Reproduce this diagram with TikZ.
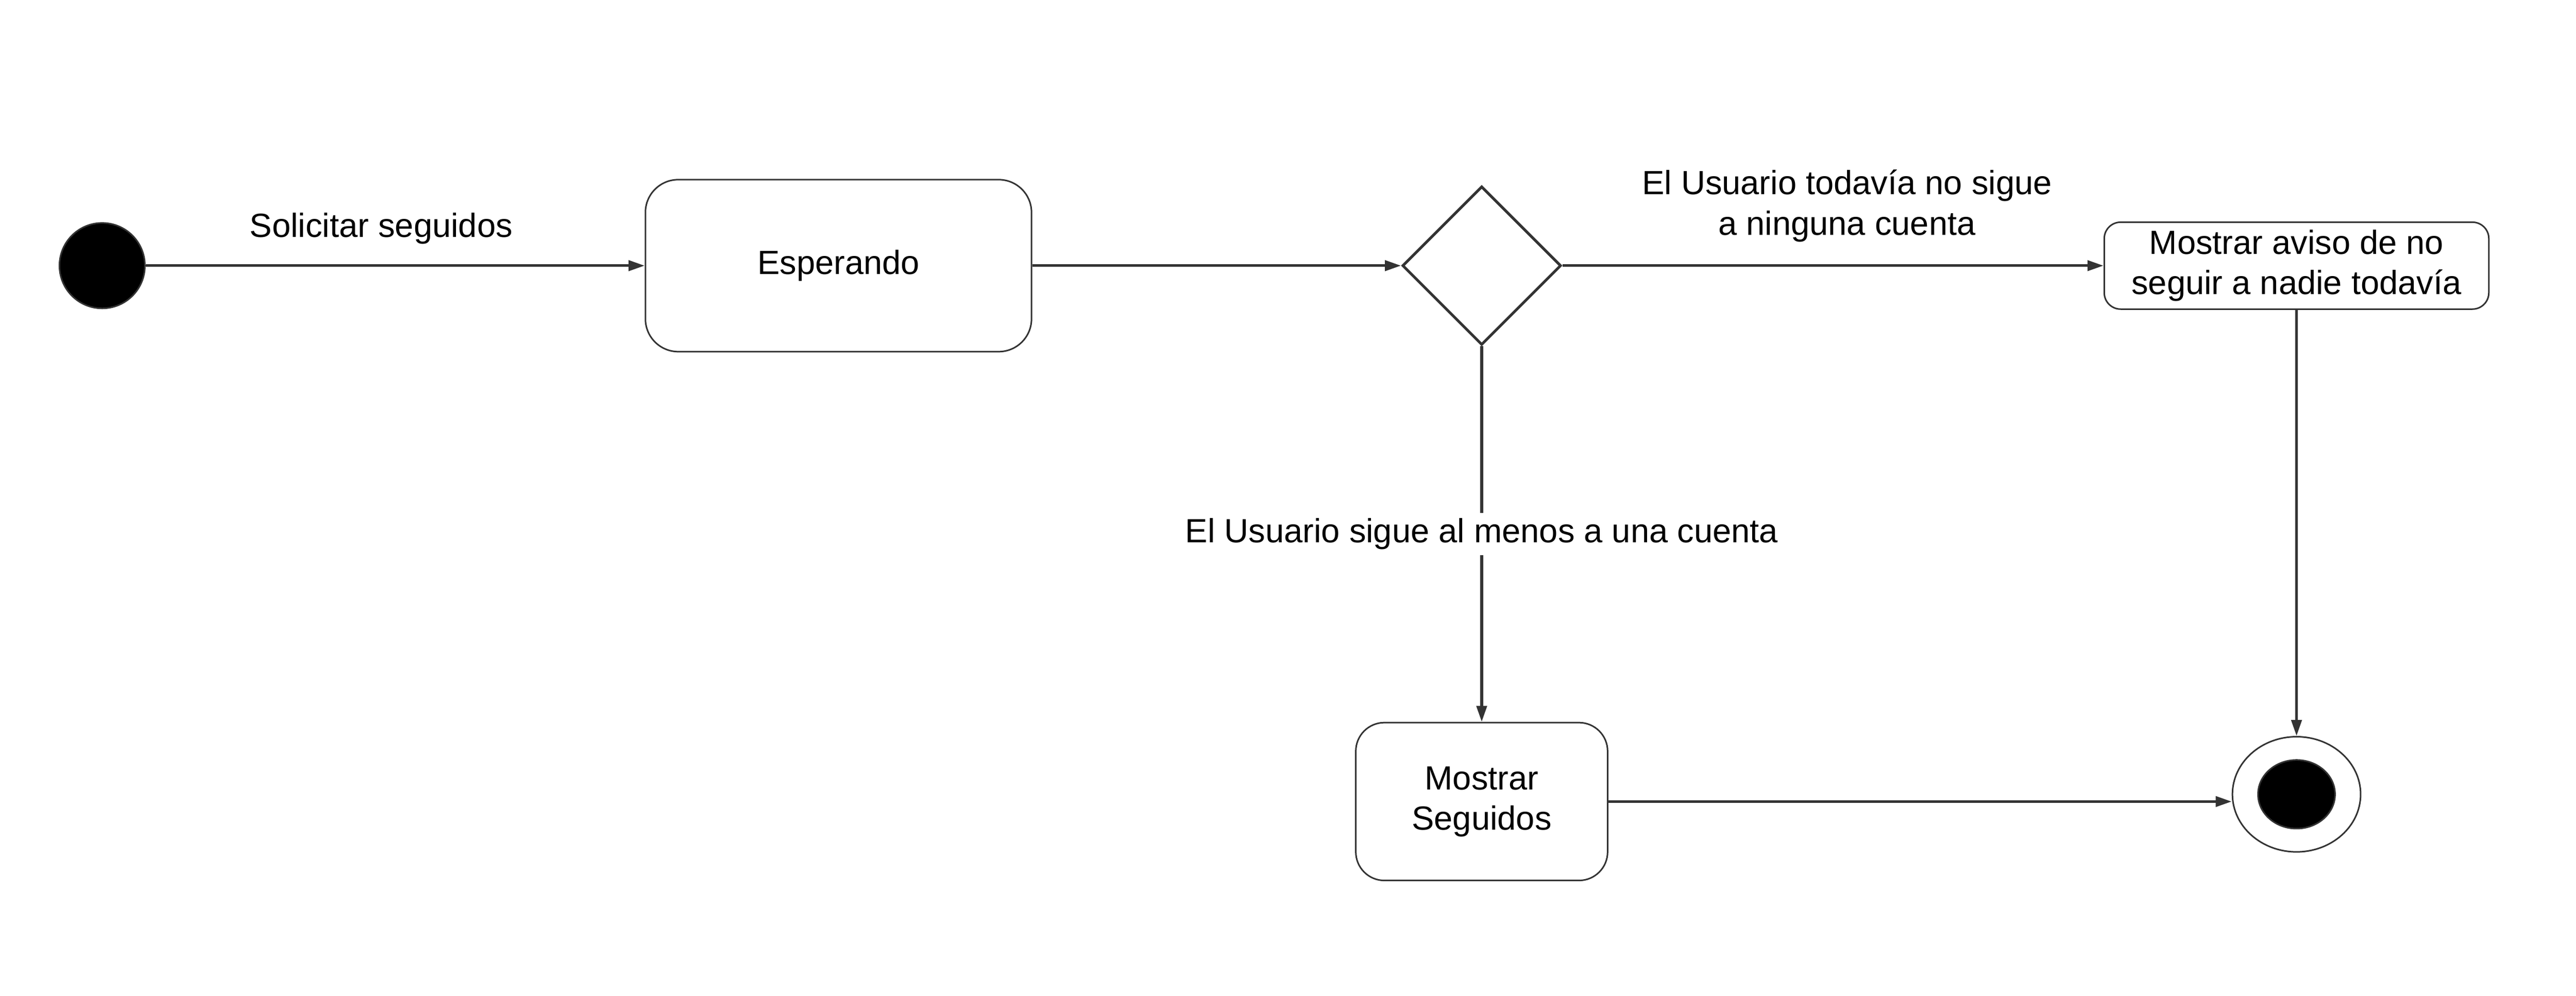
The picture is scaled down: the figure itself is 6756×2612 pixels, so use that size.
\documentclass[tikz,border=0pt]{standalone}
\usepackage{fontspec}
\setmainfont{Liberation Sans}
\usetikzlibrary{shapes.geometric,arrows.meta}
\definecolor{lc}{HTML}{333333}
\begin{document}
\begin{tikzpicture}[x=0.01cm,y=-0.01cm,
  every node/.style={font=\fontsize{25}{30}\selectfont, text=black},
  line/.style={draw=lc, line width=2pt},
  arr/.style={line, -{Triangle[length=0.42cm,width=0.27cm]}},
  statebox/.style={draw=lc, line width=1.15pt, fill=white, align=center, inner sep=0pt},
  lbl/.style={inner sep=0pt, align=center},
]
\useasboundingbox[fill=white] (0,0) rectangle (6756,2612);
\node[circle, draw=lc, line width=1.15pt, fill=black, minimum size=2.24cm, inner sep=0pt] (ini) at (268,697) {};
\node[statebox, minimum width=10.12cm, minimum height=4.51cm, rounded corners=0.86cm] (esp) at (2199,697) {Esperando};
\node[diamond, aspect=1, draw=lc, line width=2pt, fill=white, minimum width=4.16cm, minimum height=4.16cm, inner sep=0pt] (dec) at (3886,697) {};
\node[statebox, minimum width=10.08cm, minimum height=2.28cm, rounded corners=0.43cm] (aviso) at (6023,697) {Mostrar aviso de no\\seguir a nadie todavía};
\node[statebox, minimum width=6.6cm, minimum height=4.14cm, rounded corners=0.75cm] (seg) at (3886,2103) {Mostrar\\Seguidos};
\node[ellipse, draw=lc, line width=1.15pt, fill=white, minimum width=3.36cm, minimum height=3.02cm, inner sep=0pt] (fin) at (6023,2084) {};
\node[ellipse, draw=lc, line width=1.15pt, fill=black, minimum width=2.02cm, minimum height=1.8cm, inner sep=0pt] (finin) at (6023,2084) {};

\draw[arr] (ini) -- node[lbl, pos=0.472, anchor=base, yshift=0.75cm] {Solicitar seguidos} (esp);
\draw[arr] (esp) -- (dec);
\draw[arr] (dec) -- node[lbl, pos=0.526, anchor=south, yshift=0.59cm] {El Usuario todavía no sigue\\a ninguna cuenta} (aviso);
\draw[arr] (dec) -- node[midway, fill=white, inner xsep=0.1cm, inner ysep=0.14cm] {El Usuario sigue al menos a una cuenta} (seg);
\draw[arr] (aviso) -- (fin);
\draw[arr] (seg.east) -- (seg.east -| fin.west);
\end{tikzpicture}
\end{document}
